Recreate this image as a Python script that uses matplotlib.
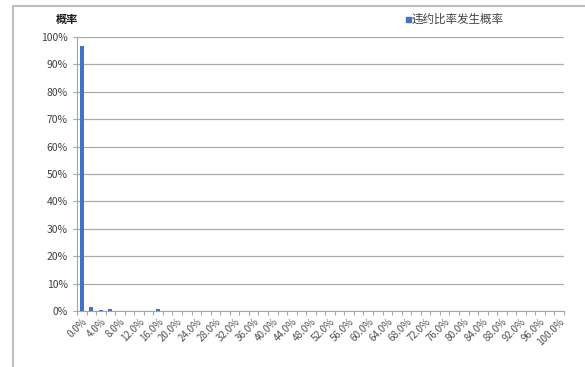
import numpy as np
import matplotlib
matplotlib.use("Agg")
import matplotlib.pyplot as plt
import matplotlib.patches as patches
from matplotlib.lines import Line2D
from matplotlib.ticker import PercentFormatter

plt.rcParams['font.family'] = ['Noto Sans CJK SC', 'DejaVu Sans']

# default ratio categories 0%..100% in 2% steps
categories = [f"{v:.1f}%" for v in np.arange(0, 101, 2)]
probability = [96.7, 1.5, 0.3, 0.6, 0.0, 0.0, 0.0, 0.0, 0.9] + [0.0] * 42
series_name = "违约比率发生概率"
y_title = "概率"
bar_color = "#4472C4"

fig = plt.figure(figsize=(5.85, 3.67), dpi=100)
W, H = 585, 367
ax = fig.add_axes([77 / W, 1 - 311 / H, (564 - 77) / W, (311 - 37) / H])

x = np.arange(len(categories))
ax.bar(x, probability, width=0.42, color=bar_color, zorder=3)

ax.set_xlim(-0.5, len(categories) - 0.5)
ax.set_ylim(0, 100)
ax.set_yticks(np.arange(0, 101, 10))
ax.yaxis.set_major_formatter(PercentFormatter(decimals=0))
ax.grid(axis="y", color="#ababab", linewidth=0.9, zorder=0)

# category boundaries as ticks, labels on every other category
ax.set_xticks(np.arange(-0.5, len(categories), 1), minor=False)
ax.set_xticklabels([])
ax.set_xticks(x[::2], minor=True)
ax.set_xticklabels(categories[::2], minor=True, rotation=45, ha="right",
                   rotation_mode="anchor", fontsize=7, color="#505050")
ax.tick_params(axis="x", which="major", length=3, color="#a6a6a6")
ax.tick_params(axis="x", which="minor", length=0, pad=4)
ax.tick_params(axis="y", length=3, color="#a6a6a6", labelsize=7.5,
               labelcolor="#404040")

for side in ["top", "right"]:
    ax.spines[side].set_visible(False)
for side in ["left", "bottom"]:
    ax.spines[side].set_color("#a6a6a6")

# chart title above the y axis
fig.text(67 / W, 1 - 19 / H, y_title, fontsize=8, fontweight="bold",
         ha="center", va="center", color="#1a1a1a")

# legend
fig.patches.append(patches.Rectangle((406 / W, 1 - 22 / H), 5 / W, 5 / H,
                                     transform=fig.transFigure, color=bar_color))
fig.text(412 / W, 1 - 19 / H, series_name, fontsize=8.3, ha="left",
         va="center", color="#404040")

# chart border (cropped at right and bottom)
fig.lines.append(Line2D([13 / W, 13 / W, 1.05], [-0.05, 1 - 6 / H, 1 - 6 / H],
                        transform=fig.transFigure, color="#bfbfbf",
                        linewidth=1.5))

fig.savefig("out.png", dpi=100)
